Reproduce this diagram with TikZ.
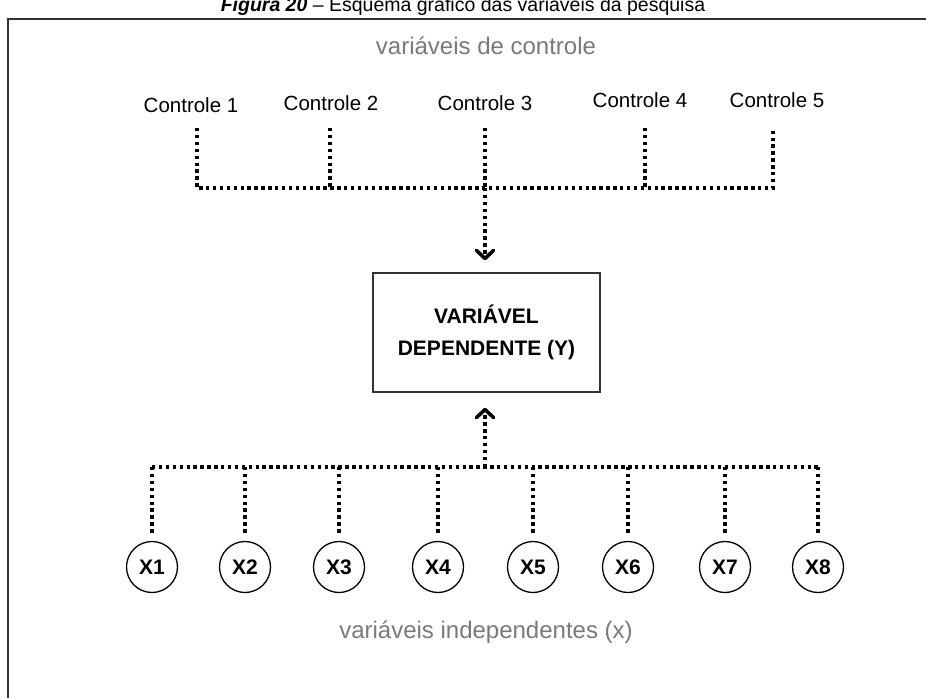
\documentclass[tikz,border=0pt]{standalone}
\usepackage{fontspec}
\setmainfont{Liberation Sans}
\usetikzlibrary{arrows.meta,calc}
\definecolor{labelgray}{HTML}{7A7A7A}
\definecolor{framegray}{HTML}{333333}
\begin{document}
\begin{tikzpicture}[x=1pt,y=-1pt,
  dotline/.style={line width=3.4pt,dash pattern=on 3.4pt off 3.5pt,black},
  chev/.style={-{Straight Barb[length=8pt,width=17pt,line width=3.6pt 0 0,round]}},
  ctl/.style={anchor=base,font=\fontsize{20.5}{24}\selectfont,inner sep=0pt},
  grouplabel/.style={anchor=base,font=\fontsize{24}{28}\selectfont,text=labelgray,inner sep=0pt},
  depbox/.style={draw=framegray,line width=1.5pt,minimum width=227pt,minimum height=119pt,
    align=center,font=\fontsize{21}{32}\selectfont\bfseries,inner sep=0pt},
  xvar/.style={circle,draw=black,line width=1.3pt,minimum size=51pt,inner sep=0pt,
    text height=15pt,text depth=0pt,font=\fontsize{21}{24}\selectfont\bfseries}]
\useasboundingbox (0,0) rectangle (926,698);
\clip (0,0) rectangle (926,698);
\fill[white] (0,0) rectangle (926,698);

% caption and outer frame
\node[anchor=base,font=\fontsize{19.5}{22}\selectfont,inner sep=0pt] (caption) at (463,12)
  {\textbf{\textit{Figura 20}} – Esquema gráfico das variáveis da pesquisa};
\draw[framegray,line width=2.2pt] (8,720) -- (8,19) -- (960,19);

% control variables
\node[grouplabel] (ctltitle) at (486,55) {variáveis de controle};
\node[ctl] (c1) at (191,113) {Controle 1};
\node[ctl] (c2) at (331,111) {Controle 2};
\node[ctl] (c3) at (485,111) {Controle 3};
\node[ctl] (c4) at (640,108) {Controle 4};
\node[ctl] (c5) at (777,108) {Controle 5};

\coordinate (c1top) at (197,128);
\coordinate (c2top) at (330,128);
\coordinate (c3top) at (485,128);
\coordinate (c4top) at (645,128);
\coordinate (c5top) at (773,130);
\coordinate (busL) at (197,188);
\coordinate (busR) at (773,188);
\coordinate (busC) at (485,188);

% dependent variable
\node[depbox] (dep) at (486.5,332.5) {VARIÁVEL\\DEPENDENTE (Y)};

% independent variables
\foreach \i/\xx in {1/152,2/245,3/339,4/438,5/533,6/628,7/725,8/818}{
  \node[xvar] (x\i) at (\xx,567) {X\i};
}
\coordinate (lowL) at (152,467);
\coordinate (lowR) at (818,467);
\coordinate (lowC) at (485,467);
\node[grouplabel] (indtitle) at (486,638) {variáveis independentes (x)};

% control connectors
\draw[dotline] (c1top) -- (busL) -- (busR) -- (c5top);
\foreach \n in {c2top,c3top,c4top}{
  \draw[dotline] (\n) -- (\n |- busL);
}
\draw[dotline,chev,shorten >=12pt] (busC) -- (dep.north -| busC);

% independent connectors
\draw[dotline] (lowL) -- (lowR);
\foreach \i in {1,...,8}{
  \draw[dotline] (x\i |- lowL) -- ([yshift=8pt]x\i.north);
}
\draw[dotline,chev,shorten >=15pt] (lowC) -- (dep.south -| lowC);
\end{tikzpicture}
\end{document}
